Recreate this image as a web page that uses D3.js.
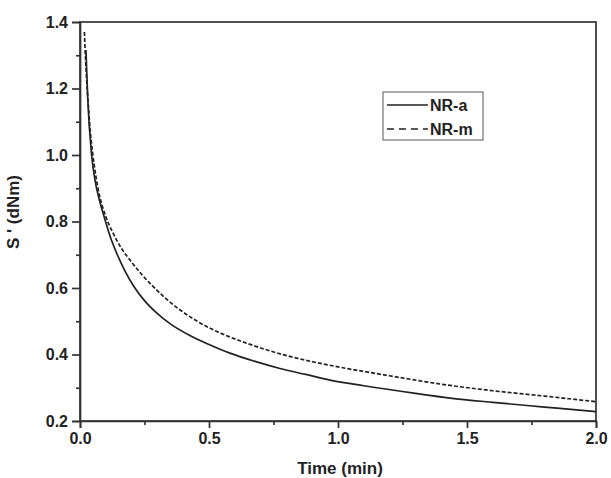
<!DOCTYPE html>
<html>
<head>
<meta charset="utf-8">
<script src="https://cdn.jsdelivr.net/npm/d3@7"></script>
<style>
  body { margin: 0; background: #fff; }
  svg text { font-family: "Liberation Sans", Arial, sans-serif; font-weight: bold; fill: #222; }
</style>
</head>
<body>
<div id="chart"></div>
<script>
"use strict";

// NR-a (solid)
const time_a = [0.023, 0.03, 0.045, 0.058, 0.075, 0.097, 0.12, 0.142, 0.175, 0.207, 0.25, 0.297, 0.35, 0.426, 0.5, 0.581, 0.675, 0.775, 0.875, 0.969, 1.1, 1.3, 1.434, 1.6, 1.8, 2.0];
const value_a = [1.316, 1.17, 1.0, 0.925, 0.865, 0.805, 0.748, 0.705, 0.65, 0.607, 0.562, 0.525, 0.492, 0.457, 0.43, 0.404, 0.38, 0.358, 0.34, 0.323, 0.306, 0.283, 0.269, 0.256, 0.242, 0.228];

// NR-m (dashed)
const time_m = [0.017, 0.022, 0.028, 0.04, 0.05, 0.071, 0.1, 0.129, 0.16, 0.194, 0.24, 0.284, 0.33, 0.388, 0.45, 0.517, 0.58, 0.646, 0.74, 0.84, 0.94, 1.034, 1.2, 1.434, 1.6, 1.8, 2.0];
const value_m = [1.37, 1.28, 1.2, 1.07, 1.0, 0.895, 0.815, 0.764, 0.72, 0.684, 0.64, 0.604, 0.57, 0.534, 0.502, 0.474, 0.453, 0.434, 0.41, 0.389, 0.372, 0.358, 0.336, 0.307, 0.291, 0.275, 0.258];

const x_ticks = [0.0, 0.5, 1.0, 1.5, 2.0];
const y_ticks = [0.2, 0.4, 0.6, 0.8, 1.0, 1.2, 1.4];
const series_names = ["NR-a", "NR-m"];

const W = 611, H = 478;
const margin = {left: 80, right: 15, top: 22, bottom: 57};

const svg = d3.select("#chart").append("svg")
    .attr("width", W)
    .attr("height", H);

const x = d3.scaleLinear().domain([0, 2]).range([margin.left, W - margin.right]);
const y = d3.scaleLinear().domain([0.2, 1.4]).range([H - margin.bottom, margin.top]);

const axis_color = "#333";

// frame (top + right)
svg.append("rect")
    .attr("x", x(0))
    .attr("y", y(1.4))
    .attr("width", x(2) - x(0))
    .attr("height", y(0.2) - y(1.4))
    .style("fill", "none")
    .style("stroke", axis_color)
    .style("stroke-width", 1.7);

// minor ticks
const x_minor = d3.range(0.25, 2, 0.5);
const y_minor = d3.range(0.3, 1.4, 0.2);

const gx = svg.append("g").attr("transform", "translate(0," + y(0.2) + ")");
gx.call(d3.axisBottom(x).tickValues(x_ticks).tickFormat(d3.format(".1f")).tickSize(7).tickPadding(5));
gx.append("g").call(d3.axisBottom(x).tickValues(x_minor).tickFormat("").tickSize(4))
    .select(".domain").remove();

const gy = svg.append("g").attr("transform", "translate(" + x(0) + ",0)");
gy.call(d3.axisLeft(y).tickValues(y_ticks).tickFormat(d3.format(".1f")).tickSize(8).tickPadding(4));
gy.append("g").call(d3.axisLeft(y).tickValues(y_minor).tickFormat("").tickSize(4))
    .select(".domain").remove();

svg.selectAll(".domain, .tick line")
    .style("stroke", axis_color)
    .style("stroke-width", 1.7);
svg.selectAll(".tick text")
    .style("font-size", "16px")
    .style("font-family", "Liberation Sans, Arial, sans-serif")
    .style("font-weight", "bold")
    .style("fill", "#222");

// axis titles
svg.append("text")
    .attr("x", 340)
    .attr("y", 474)
    .attr("text-anchor", "middle")
    .style("font-size", "17px")
    .text("Time  (min)");

svg.append("text")
    .attr("transform", "translate(19,212) rotate(-90)")
    .attr("text-anchor", "middle")
    .style("font-size", "17px")
    .text("S '  (dNm)");

// curves
const line = d3.line()
    .x((d) => x(d[0]))
    .y((d) => y(d[1]))
    .curve(d3.curveMonotoneX);

const data_a = time_a.map((t, i) => [t, value_a[i]]);
const data_m = time_m.map((t, i) => [t, value_m[i]]);

svg.append("path")
    .datum(data_a)
    .attr("d", line)
    .style("fill", "none")
    .style("stroke", "#222")
    .style("stroke-width", 1.7);

svg.append("path")
    .datum(data_m)
    .attr("d", line)
    .style("fill", "none")
    .style("stroke", "#222")
    .style("stroke-width", 1.7)
    .style("stroke-dasharray", "4,2");

// legend
const legend = svg.append("g").attr("transform", "translate(383,92)");
legend.append("rect")
    .attr("width", 100)
    .attr("height", 48)
    .style("fill", "#fff")
    .style("stroke", "#555")
    .style("stroke-width", 1);

series_names.forEach((name, i) => {
    const ly = 13 + i * 24;
    legend.append("line")
        .attr("x1", 4)
        .attr("x2", 45)
        .attr("y1", ly)
        .attr("y2", ly)
        .style("stroke", "#222")
        .style("stroke-width", 1.7)
        .style("stroke-dasharray", i === 1 ? "7,5" : null);
    legend.append("text")
        .attr("x", 47)
        .attr("y", ly + 6)
        .style("font-size", "16px")
        .text(name);
});
</script>
</body>
</html>
